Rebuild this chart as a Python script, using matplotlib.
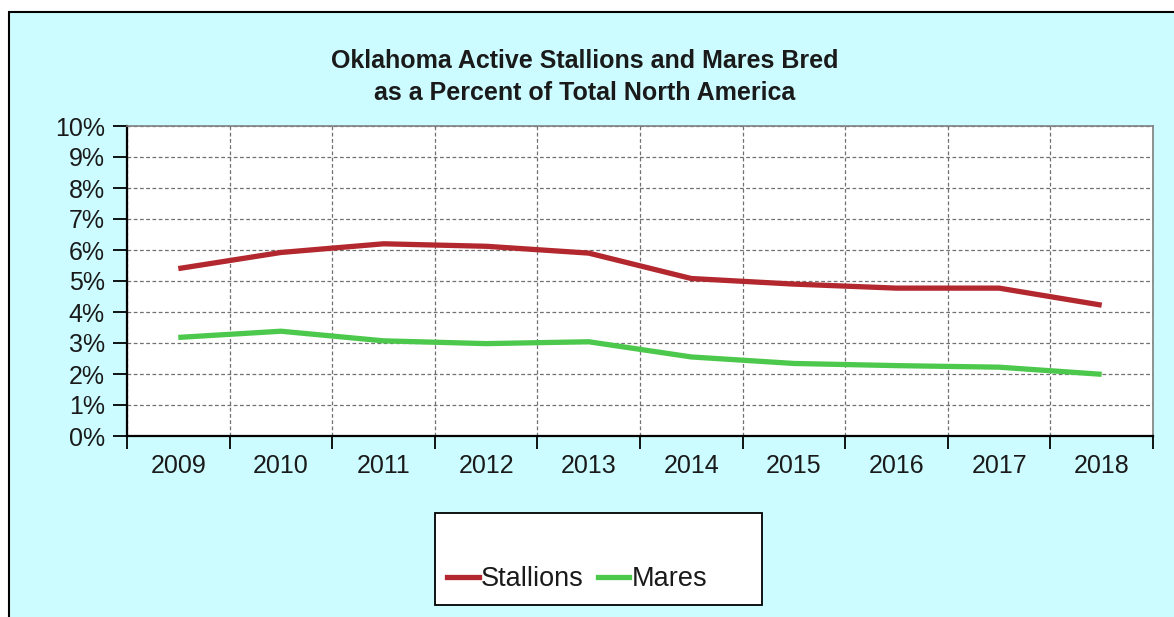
import matplotlib
matplotlib.use("Agg")
import matplotlib.pyplot as plt
from matplotlib.patches import Rectangle
from matplotlib.lines import Line2D

years = ["2009", "2010", "2011", "2012", "2013", "2014", "2015", "2016", "2017", "2018"]
stallions = [5.4, 5.92, 6.2, 6.12, 5.9, 5.08, 4.9, 4.77, 4.77, 4.22]
mares = [3.18, 3.38, 3.07, 2.98, 3.04, 2.55, 2.34, 2.27, 2.22, 1.99]
y_ticks = list(range(0, 11))
y_labels = [f"{v}%" for v in y_ticks]
title = "Oklahoma Active Stallions and Mares Bred\nas a Percent of Total North America"

RED = "#B2282E"
GREEN = "#4CC94C"
BG = "#CCFCFF"

plt.rcParams["font.family"] = ["Liberation Sans", "DejaVu Sans"]

W, H = 1174, 617
fig = plt.figure(figsize=(W / 100, H / 100), dpi=100, facecolor="white")

# outer cyan panel with black border
fig.patches.append(Rectangle((9 / W, -0.01), 1.0, 1.01 - 12 / H, transform=fig.transFigure,
                             facecolor=BG, edgecolor="black", linewidth=1.5, zorder=-5))

ax = fig.add_axes([127 / W, 1 - 436 / H, (1153 - 127) / W, (436 - 126) / H])
ax.set_zorder(1)
ax.set_facecolor("white")

x = [i + 0.5 for i in range(len(years))]
ax.plot(x, stallions, color=RED, linewidth=3.8, solid_capstyle="butt", zorder=3)
ax.plot(x, mares, color=GREEN, linewidth=3.8, solid_capstyle="butt", zorder=3)

ax.set_xlim(0, len(years))
ax.set_ylim(0, 10)

ax.set_yticks(y_ticks)
ax.set_yticklabels(y_labels, fontsize=18, color="#1a1a1a")
ax.set_xticks(range(len(years) + 1))
ax.set_xticklabels([])
ax.set_xticks(x, minor=True)
ax.set_xticklabels(years, minor=True, fontsize=18, color="#1a1a1a")
ax.tick_params(axis="x", which="major", direction="out", length=9, width=1.3, color="black")
ax.tick_params(axis="x", which="minor", length=0, pad=13)
ax.tick_params(axis="y", direction="out", length=10, width=1.3, color="black", pad=6)

ax.grid(True, which="major", color="#707070", linestyle=(0, (3, 2)), linewidth=0.9)
ax.set_axisbelow(True)

for s in ["left", "bottom"]:
    ax.spines[s].set_color("black")
    ax.spines[s].set_linewidth(1.6)
for s in ["top", "right"]:
    ax.spines[s].set_color("#808080")
    ax.spines[s].set_linewidth(1.2)

fig.text(585 / W, 1 - 77 / H, title, ha="center", va="center", fontsize=18,
         fontweight="bold", linespacing=1.45, color="#1a1a1a")

# legend box
fig.patches.append(Rectangle((435 / W, 1 - 605 / H), (762 - 435) / W, (605 - 513) / H,
                             transform=fig.transFigure, facecolor="white",
                             edgecolor="black", linewidth=1.3, zorder=1))
handles = [Line2D([], [], color=RED, linewidth=3.8), Line2D([], [], color=GREEN, linewidth=3.8)]
leg = fig.legend(handles, ["Stallions", "Mares"], loc="center left",
                 bbox_to_anchor=(423 / W, 1 - 579 / H), ncol=2, frameon=False,
                 fontsize=19.5, handlelength=1.15, handletextpad=0.1, columnspacing=0.5)
leg.set_zorder(2)
for t in leg.get_texts():
    t.set_color("#1a1a1a")

fig.savefig("out.png", dpi=100, facecolor="white")
